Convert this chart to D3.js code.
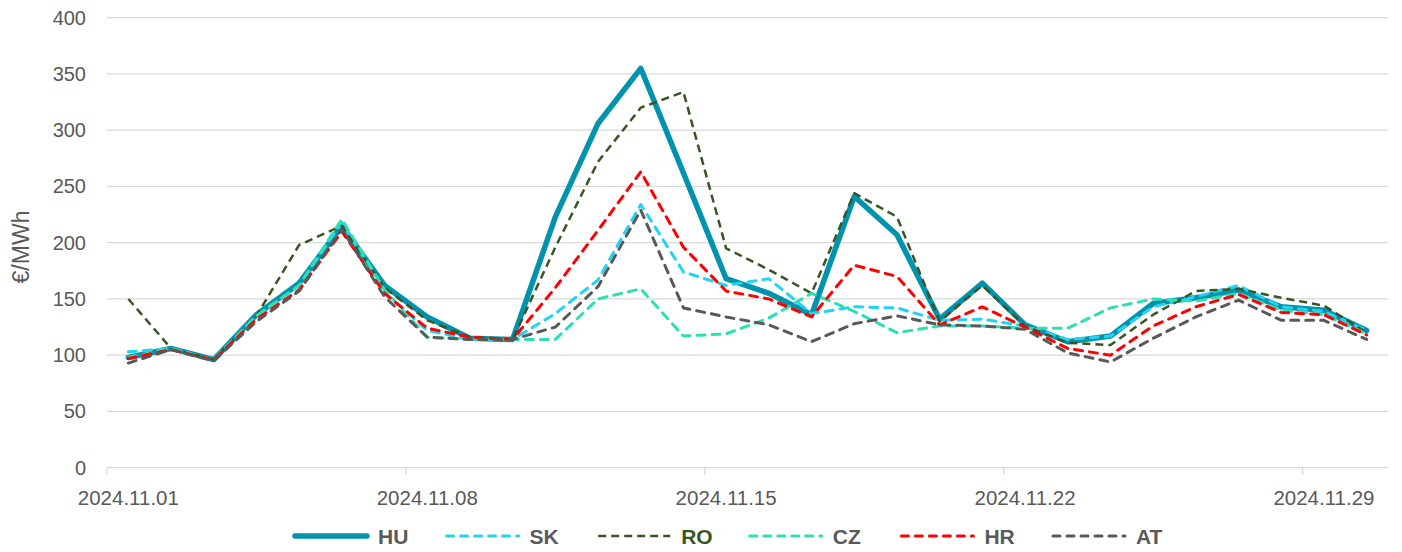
<!DOCTYPE html>
<html>
<head>
<meta charset="utf-8">
<script src="https://cdn.jsdelivr.net/npm/d3@7"></script>
<style>
  body { margin: 0; background: #fff; }
  svg { display: block; font-family: "Liberation Sans", Arial, sans-serif; }
</style>
</head>
<body>
<svg width="1402" height="552"></svg>
<script>
const days = ["2024.11.01","2024.11.02","2024.11.03","2024.11.04","2024.11.05","2024.11.06","2024.11.07",
  "2024.11.08","2024.11.09","2024.11.10","2024.11.11","2024.11.12","2024.11.13","2024.11.14",
  "2024.11.15","2024.11.16","2024.11.17","2024.11.18","2024.11.19","2024.11.20","2024.11.21",
  "2024.11.22","2024.11.23","2024.11.24","2024.11.25","2024.11.26","2024.11.27","2024.11.28",
  "2024.11.29","2024.11.30"];
const tickDays = ["2024.11.01","2024.11.08","2024.11.15","2024.11.22","2024.11.29"];
const yTicks = [0, 50, 100, 150, 200, 250, 300, 350, 400];

const hu = [98,106,96,136,164,215,162,134,115,114,223,306,355,262,168,155,136,241,207,132,164,127,112,117,146,151,158,143,140,122];
const sk = [103,106,96,135,162,218,156,122,114,114,137,167,234,174,162,168,137,143,142,131,132,126,114,117,143,152,162,143,139,122];
const ro = [150,106,96,135,198,215,160,131,116,114,196,272,320,334,195,176,155,244,223,130,162,126,111,109,136,157,159,151,144,120];
const cz = [98,106,96,135,162,221,158,116,114,114,114,150,159,117,119,133,155,139,120,126,126,124,124,142,150,148,155,140,136,119];
const hr = [97,105,96,132,158,210,155,124,116,114,160,211,263,196,157,150,134,180,170,127,143,125,106,100,126,143,154,138,136,118];
const at = [93,105,95,130,157,212,152,116,114,114,125,161,229,142,134,127,112,128,135,127,126,123,102,94,115,134,149,131,131,114];

const series = [
  {name: "HU", values: hu, color: "#0093ae", width: 5.5, dash: null, legendDash: null, text: "#595959"},
  {name: "SK", values: sk, color: "#22d3f2", width: 3, dash: "8,7", legendDash: "7,7", text: "#595959"},
  {name: "RO", values: ro, color: "#375623", width: 2.5, dash: "8,5", legendDash: "8,5", text: "#375623"},
  {name: "CZ", values: cz, color: "#2ce0b4", width: 3, dash: "8,7", legendDash: "7,7", text: "#595959"},
  {name: "HR", values: hr, color: "#ff0000", width: 3, dash: "8,7", legendDash: "7,7", text: "#595959"},
  {name: "AT", values: at, color: "#595959", width: 3, dash: "8,7", legendDash: "7,7", text: "#595959"}
];

const svg = d3.select("svg");
const plotLeft = 107, plotRight = 1388, plotTop = 17.7, plotBottom = 467.7;

const x = d3.scaleBand().domain(days).range([plotLeft, plotRight]);
const y = d3.scaleLinear().domain([0, 400]).range([plotBottom, plotTop]);

// gridlines
svg.append("g")
  .selectAll("line")
  .data(yTicks)
  .join("line")
  .attr("x1", plotLeft).attr("x2", plotRight)
  .attr("y1", d => y(d)).attr("y2", d => y(d))
  .attr("stroke", "#d9d9d9").attr("stroke-width", 1.3);

// y axis labels
const yAxis = svg.append("g")
  .attr("transform", `translate(${plotLeft},0)`)
  .call(d3.axisLeft(y).tickValues(yTicks).tickSize(0).tickPadding(21));
yAxis.select(".domain").remove();
yAxis.selectAll("text").attr("fill", "#595959").attr("font-size", 20)
  .attr("font-family", "Liberation Sans, Arial, sans-serif");

// x axis: ticks at category boundaries, labels at centres
const xg = svg.append("g");
xg.selectAll("line.tick")
  .data(tickDays)
  .join("line")
  .attr("class", "tick")
  .attr("x1", d => x(d)).attr("x2", d => x(d))
  .attr("y1", plotBottom).attr("y2", plotBottom + 7)
  .attr("stroke", "#d9d9d9").attr("stroke-width", 1.3);
xg.selectAll("text")
  .data(tickDays)
  .join("text")
  .attr("x", d => x(d) + x.bandwidth() / 2)
  .attr("y", plotBottom + 37)
  .attr("text-anchor", "middle")
  .attr("fill", "#595959")
  .attr("font-size", 20.5)
  .text(d => d);

// y title
svg.append("text")
  .attr("transform", `translate(29,247) rotate(-90)`)
  .attr("text-anchor", "middle")
  .attr("fill", "#595959")
  .attr("font-size", 23)
  .text("€/MWh");

// lines
const line = d3.line()
  .x((d, i) => x(days[i]) + x.bandwidth() / 2)
  .y(d => y(d));

series.forEach(s => {
  svg.append("path")
    .attr("d", line(s.values))
    .attr("fill", "none")
    .attr("stroke", s.color)
    .attr("stroke-width", s.width)
    .attr("stroke-linejoin", "round")
    .attr("stroke-linecap", s.name === "RO" ? "butt" : "round")
    .attr("stroke-dasharray", s.dash);
});

// legend
const legend = svg.append("g").attr("transform", "translate(295,536)");
const item = legend.selectAll("g")
  .data(series)
  .join("g")
  .attr("transform", (d, i) => `translate(${i * 151.6},0)`);
item.append("line")
  .attr("x1", 0).attr("x2", 72).attr("y1", 0).attr("y2", 0)
  .attr("stroke", d => d.color)
  .attr("stroke-width", d => d.width)
  .attr("stroke-linecap", d => d.name === "RO" ? "butt" : "round")
  .attr("stroke-dasharray", d => d.legendDash);
item.append("text")
  .attr("x", 83).attr("y", 8)
  .attr("fill", d => d.text)
  .attr("font-size", 21)
  .attr("font-weight", "bold")
  .text(d => d.name);
</script>
</body>
</html>
